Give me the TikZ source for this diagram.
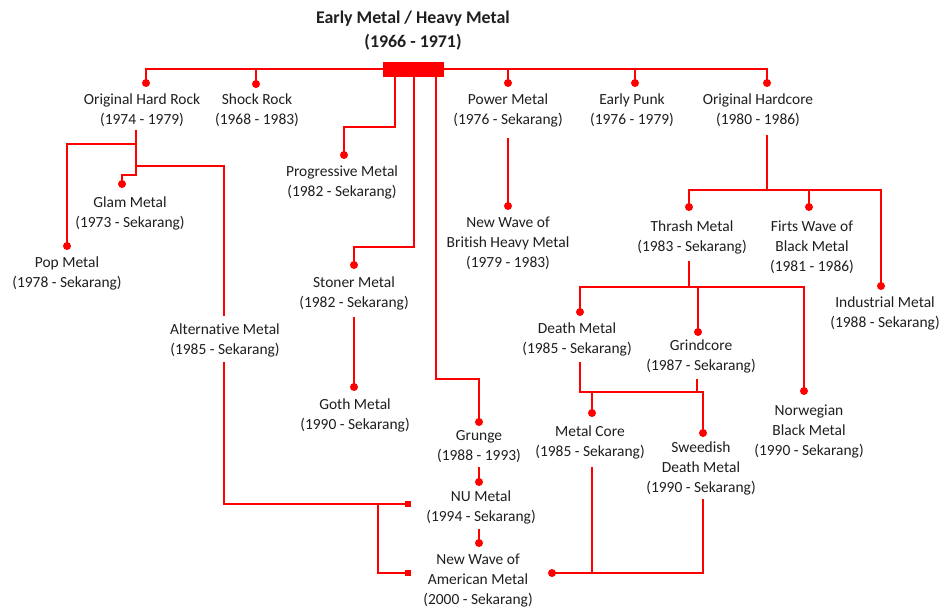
\documentclass[tikz,border=0pt]{standalone}
\usepackage{fontspec}
\setmainfont{Carlito}[Ligatures=NoCommon]
\begin{document}
\begin{tikzpicture}[x=0.75pt,y=-0.75pt,
  lbl/.style={align=center,text=black!88,font=\fontsize{11.6}{15}\selectfont,inner sep=0pt},
  ttl/.style={align=center,text=black!88,font=\bfseries\fontsize{13.4}{18}\selectfont,inner sep=0pt},
  link/.style={draw=red,line width=1.2pt,line join=miter},
  dot/.style={circle,fill=red,inner sep=0pt,minimum size=6pt},
  sq/.style={rectangle,fill=red,inner sep=0pt,minimum size=4.5pt},
  barbox/.style={rectangle,fill=red,inner sep=0pt,minimum width=45.75pt,minimum height=11.25pt}]
\useasboundingbox (0,0) rectangle (943,610);
\fill[white] (0,0) rectangle (943,610);

% texts
\node[ttl] (title) at (413,31) {Early Metal / Heavy Metal\\(1966 - 1971)};
\node[lbl] (ohr) at (142,110) {Original Hard Rock\\(1974 - 1979)};
\node[lbl] (shock) at (257,110) {Shock Rock\\(1968 - 1983)};
\node[lbl] (power) at (508,110) {Power Metal\\(1976 - Sekarang)};
\node[lbl] (punk) at (632,110) {Early Punk\\(1976 - 1979)};
\node[lbl] (ohc) at (758,110) {Original Hardcore\\(1980 - 1986)};
\node[lbl] (prog) at (342,182) {Progressive Metal\\(1982 - Sekarang)};
\node[lbl] (glam) at (130,213) {Glam Metal\\(1973 - Sekarang)};
\node[lbl] (pop) at (67,273) {Pop Metal\\(1978 - Sekarang)};
\node[lbl] (nwobhm) at (508,243) {New Wave of\\British Heavy Metal\\(1979 - 1983)};
\node[lbl] (thrash) at (692,237) {Thrash Metal\\(1983 - Sekarang)};
\node[lbl] (firts) at (812,247) {Firts Wave of\\Black Metal\\(1981 - 1986)};
\node[lbl] (indus) at (885,313) {Industrial Metal\\(1988 - Sekarang)};
\node[lbl] (stoner) at (354,293) {Stoner Metal\\(1982 - Sekarang)};
\node[lbl] (alt) at (225,340) {Alternative Metal\\(1985 - Sekarang)};
\node[lbl] (death) at (577,339) {Death Metal\\(1985 - Sekarang)};
\node[lbl] (grind) at (701,356) {Grindcore\\(1987 - Sekarang)};
\node[lbl] (goth) at (355,415) {Goth Metal\\(1990 - Sekarang)};
\node[lbl] (norw) at (809,432) {Norwegian\\Black Metal\\(1990 - Sekarang)};
\node[lbl] (grunge) at (479,447) {Grunge\\(1988 - 1993)};
\node[lbl] (mcore) at (590,442) {Metal Core\\(1985 - Sekarang)};
\node[lbl] (sweed) at (701,468) {Sweedish\\Death Metal\\(1990 - Sekarang)};
\node[lbl] (nu) at (481,507) {NU Metal\\(1994 - Sekarang)};
\node[lbl] (nwoam) at (478,581) {New Wave of\\American Metal\\(2000 - Sekarang)};

% junction coordinates
\coordinate (tl) at (146,69);
\coordinate (tr) at (767,69);
\coordinate (jshock) at (256,69);
\coordinate (jpower) at (508,69);
\coordinate (jpunk) at (635,69);
\coordinate (b1) at (395,77);
\coordinate (b2) at (414,77);
\coordinate (b3) at (436,77);
\coordinate (ohrb) at (136,130);
\coordinate (lg) at (136,144);
\coordinate (la) at (136,166);
\coordinate (altt) at (224,316);
\coordinate (altb) at (224,362);
\coordinate (lj) at (378,504);
\coordinate (stonerb) at (354,317);
\coordinate (grungeb) at (479,467);
\coordinate (nub) at (479,529);
\coordinate (powerb) at (508,138);
\coordinate (ohcb) at (767,135);
\coordinate (ohcj) at (767,190);
\coordinate (firtsj) at (809,190);
\coordinate (thrashb) at (689,261);
\coordinate (thrashj) at (689,287);
\coordinate (grindj) at (698,287);
\coordinate (deathb) at (580,362);
\coordinate (grindb) at (697,379);
\coordinate (grindk) at (697,392);
\coordinate (mcorej) at (592,392);
\coordinate (mcoreb) at (592,467);
\coordinate (mcorek) at (592,573);
\coordinate (sweedb) at (703,499);

% dots and squares
\node[dot] (dohr) at (146,83) {};
\node[dot] (dshock) at (256,84) {};
\node[dot] (dpower) at (508,83) {};
\node[dot] (dpunk) at (635,83) {};
\node[dot] (dohc) at (767,83) {};
\node[dot] (dprog) at (344,155) {};
\node[dot] (dglam) at (122,184) {};
\node[dot] (dpop) at (67,246) {};
\node[dot] (dstoner) at (354,265) {};
\node[dot] (dgoth) at (354,387) {};
\node[dot] (dgrunge) at (479,422) {};
\node[dot] (dnu) at (479,482) {};
\node[dot] (dnwoam) at (479,543) {};
\node[dot] (dnwobhm) at (508,206) {};
\node[dot] (dthrash) at (689,207) {};
\node[dot] (dfirts) at (809,207) {};
\node[dot] (dindus) at (881,286) {};
\node[dot] (ddeath) at (580,312) {};
\node[dot] (dgrind) at (698,332) {};
\node[dot] (dnorw) at (804,391) {};
\node[dot] (dmcore) at (592,413) {};
\node[dot] (dsweed) at (703,433) {};
\node[dot] (dam) at (552,573) {};
\node[sq] (snu) at (408,504) {};
\node[sq] (snwoam) at (408,573) {};

% top
\draw[link] (dohr.center) -- (tl) -- (tr) -- (dohc.center);
\draw[link] (jshock) -- (dshock.center);
\draw[link] (jpower) -- (dpower.center);
\draw[link] (jpunk) -- (dpunk.center);
\node[barbox] (bar) at (413.5,69.5) {};

% from bar
\draw[link] (b1) |- (344,127) -- (dprog.center);
\draw[link] (b2) |- (354,247) -- (dstoner.center);
\draw[link] (b3) |- (479,379) -- (dgrunge.center);
\draw[link] (stonerb) -- (dgoth.center);
\draw[link] (grungeb) -- (dnu.center);
\draw[link] (nub) -- (dnwoam.center);
\draw[link] (powerb) -- (dnwobhm.center);

% left side
\draw[link] (ohrb) |- (122,175) -- (dglam.center);
\draw[link] (lg) -| (dpop.center);
\draw[link] (la) -| (altt);
\draw[link] (altb) |- (snu.center);
\draw[link] (lj) |- (snwoam.center);

% hardcore branch
\draw[link] (ohcb) -- (ohcj);
\draw[link] (dthrash.center) |- (ohcj) -| (dindus.center);
\draw[link] (firtsj) -- (dfirts.center);
\draw[link] (thrashb) -- (thrashj);
\draw[link] (ddeath.center) |- (thrashj) -| (dnorw.center);
\draw[link] (grindj) -- (dgrind.center);
\draw[link] (deathb) |- (grindk) -| (dsweed.center);
\draw[link] (grindb) -- (grindk);
\draw[link] (mcorej) -- (dmcore.center);
\draw[link] (mcoreb) -- (mcorek);
\draw[link] (sweedb) |- (dam.center);
\end{tikzpicture}
\end{document}
